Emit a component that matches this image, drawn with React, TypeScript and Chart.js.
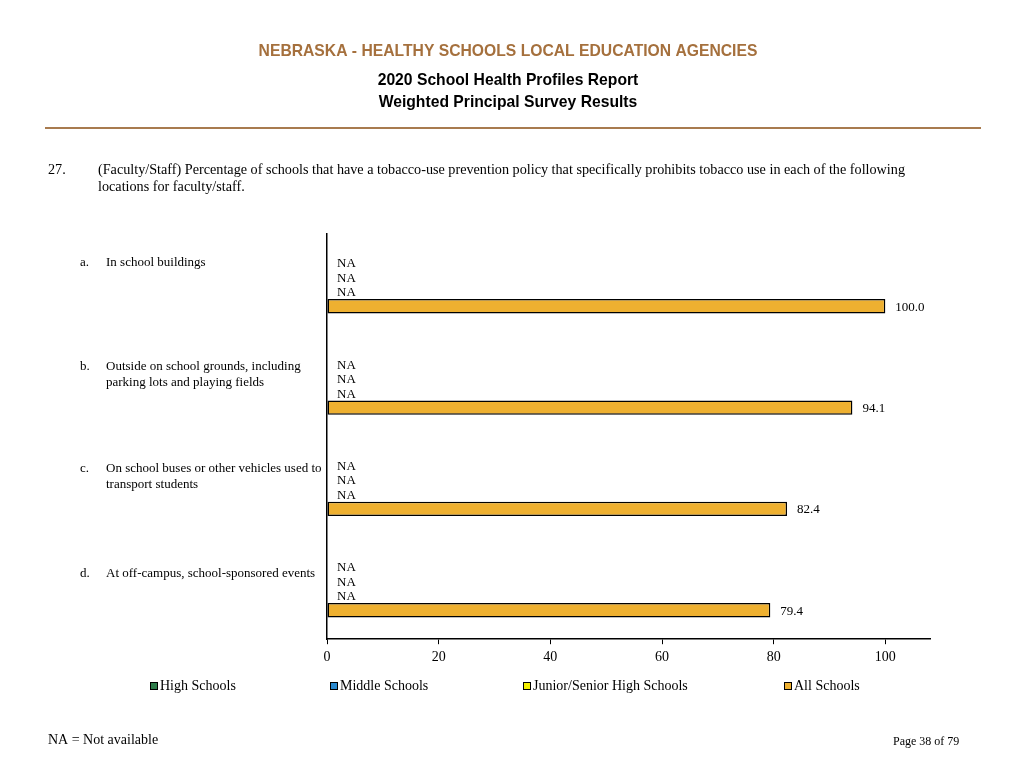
import { useEffect, useRef } from "react";
import { Chart, registerables } from "chart.js";

Chart.register(...registerables);

const titleText = "NEBRASKA - HEALTHY SCHOOLS LOCAL EDUCATION AGENCIES";
const subtitleLines = ["2020 School Health Profiles Report", "Weighted Principal Survey Results"];
const questionNumber = "27.";
const questionLines = [
  "(Faculty/Staff) Percentage of schools that have a tobacco-use prevention policy that specifically prohibits tobacco use in each of the following",
  "locations for faculty/staff.",
];
const categoryLetters = ["a.", "b.", "c.", "d."];
const categoryLabels = [
  ["In school buildings"],
  ["Outside on school grounds, including", "parking lots and playing fields"],
  ["On school buses or other vehicles used to", "transport students"],
  ["At off-campus, school-sponsored events"],
];
const seriesNames = ["High Schools", "Middle Schools", "Junior/Senior High Schools", "All Schools"];
const highSchools: (number | null)[] = [null, null, null, null];
const middleSchools: (number | null)[] = [null, null, null, null];
const juniorSeniorHighSchools: (number | null)[] = [null, null, null, null];
const allSchools: (number | null)[] = [100.0, 94.1, 82.4, 79.4];
const xTickValues = [0, 20, 40, 60, 80, 100];
const footnote = "NA = Not available";
const pageLabel = "Page 38 of 79";

const seriesColors = ["#2E7D4A", "#2A8AD0", "#F4F000", "#EEB030"];
const labelNudge = [0, 2, 3, 7];
const SERIF = '"Liberation Serif", "Times New Roman", serif';
const SANS = '"Liberation Sans", Arial, sans-serif';

const pagePlugin = {
  id: "pageText",
  afterDraw(chart: any) {
    const ctx: CanvasRenderingContext2D = chart.ctx;
    const xs = chart.scales.x;
    ctx.save();
    ctx.textBaseline = "middle";

    // Header
    ctx.textAlign = "center";
    ctx.fillStyle = "#A5703D";
    ctx.font = `bold 15.7px ${SANS}`;
    ctx.fillText(titleText, 508, 52);
    ctx.fillStyle = "#000";
    ctx.fillText(subtitleLines[0], 508, 81);
    ctx.fillText(subtitleLines[1], 508, 103);

    ctx.strokeStyle = "#A87B4F";
    ctx.lineWidth = 2;
    ctx.beginPath();
    ctx.moveTo(45, 128);
    ctx.lineTo(981, 128);
    ctx.stroke();

    // Question
    ctx.textAlign = "left";
    ctx.font = `14.2px ${SERIF}`;
    ctx.fillText(questionNumber, 48, 170);
    questionLines.forEach((l, i) => ctx.fillText(l, 98, 170 + i * 17));

    // Category labels
    ctx.font = `13px ${SERIF}`;
    const meta0 = chart.getDatasetMeta(0);
    categoryLabels.forEach((lines, i) => {
      const el = meta0.data[i];
      const y = el.y + labelNudge[i];
      ctx.fillText(categoryLetters[i], 80, y);
      lines.forEach((l, j) => ctx.fillText(l, 106, y + j * 16));
    });

    // Value labels
    chart.data.datasets.forEach((ds: any, di: number) => {
      const meta = chart.getDatasetMeta(di);
      meta.data.forEach((el: any, i: number) => {
        const v = ds.data[i];
        if (v === null || v === undefined) {
          ctx.fillText("NA", xs.getPixelForValue(0) + 10, el.y + 1);
        } else {
          ctx.fillText(v.toFixed(1), el.x + 10, el.y + 1);
        }
      });
    });

    // Legend
    const legendX = [150, 330, 523, 784];
    ctx.font = `14px ${SERIF}`;
    seriesNames.forEach((name, i) => {
      const x = legendX[i];
      ctx.fillStyle = seriesColors[i];
      ctx.fillRect(x, 682, 8, 8);
      ctx.strokeStyle = "#000";
      ctx.lineWidth = 1;
      ctx.strokeRect(x + 0.5, 682.5, 7, 7);
      ctx.fillStyle = "#000";
      ctx.fillText(name, x + 10, 686);
    });

    // Footer
    ctx.font = `14px ${SERIF}`;
    ctx.fillText(footnote, 48, 740);
    ctx.font = `12px ${SERIF}`;
    ctx.fillText(pageLabel, 893, 742);
    ctx.restore();
  },
};

export default function App() {
  const ref = useRef<HTMLCanvasElement | null>(null);
  useEffect(() => {
    if (!ref.current) return;
    const chart = new Chart(ref.current, {
      type: "bar",
      data: {
        labels: categoryLetters,
        datasets: [highSchools, middleSchools, juniorSeniorHighSchools, allSchools].map((d, i) => ({
          label: seriesNames[i],
          data: d,
          backgroundColor: seriesColors[i],
          borderColor: "#000",
          borderWidth: 1.5,
          borderSkipped: false,
          categoryPercentage: 0.57,
          barPercentage: 1.0,
        })),
      },
      options: {
        indexAxis: "y",
        responsive: false,
        animation: false,
        layout: { padding: { left: 327, right: 94, top: 234, bottom: 97 } },
        plugins: { legend: { display: false }, tooltip: { enabled: false }, title: { display: false } },
        scales: {
          x: {
            min: 0,
            max: 108,
            afterBuildTicks: (scale: any) => {
              scale.ticks = xTickValues.map((v) => ({ value: v }));
            },
            grid: { display: true, drawOnChartArea: false, drawTicks: true, tickLength: 5, color: "#000", lineWidth: 1 },
            border: { display: true, color: "#000", width: 1.5 },
            ticks: { color: "#000", font: { family: SERIF, size: 14 }, padding: 5, maxRotation: 0 },
          },
          y: {
            grid: { display: false, drawTicks: false },
            border: { display: true, color: "#000", width: 1.5 },
            ticks: { display: false },
          },
        },
      },
      plugins: [pagePlugin],
    } as any);
    return () => chart.destroy();
  }, []);
  return (
    <canvas
      ref={ref}
      width={1024}
      height={768}
      style={{ position: "absolute", left: 0, top: 0, width: 1024, height: 768, background: "#fff" }}
    />
  );
}
